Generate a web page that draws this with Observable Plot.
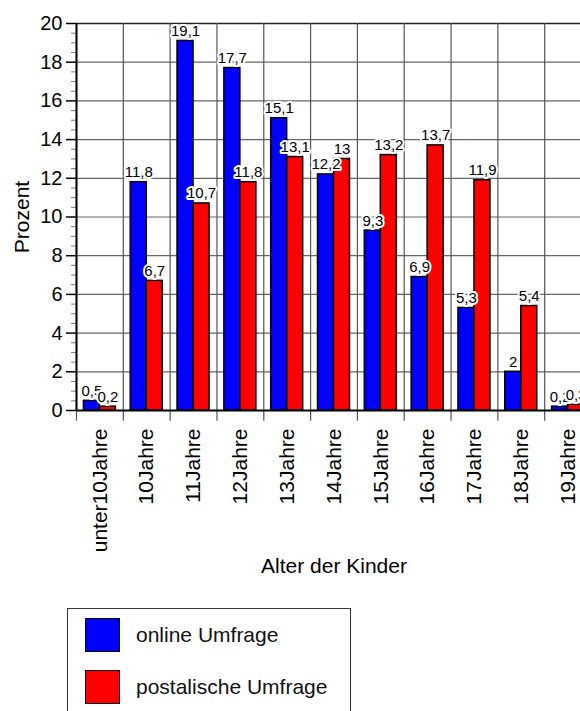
<!DOCTYPE html>
<html>
<head>
<meta charset="utf-8">
<script src="https://cdn.jsdelivr.net/npm/d3@7"></script>
<script src="https://cdn.jsdelivr.net/npm/@observablehq/plot@0.6"></script>
<style>
  html, body { margin: 0; padding: 0; background: #fff; overflow: hidden; }
  body { font-family: "Liberation Sans", Arial, Helvetica, sans-serif; }
  #wrap { position: relative; width: 580px; height: 711px; overflow: hidden; }
  #chart svg { max-width: none !important; }
  #legend {
    position: absolute; left: 67px; top: 608px; width: 284px; height: 130px;
    border: 1.5px solid #333; background: #fff; box-sizing: border-box;
  }
  .item { position: absolute; left: 17px; display: flex; align-items: center; }
  .sw { width: 35px; height: 34px; border: 1.5px solid #000; box-sizing: border-box; }
  .lab { margin-left: 16px; font-size: 21px; color: #111; }
</style>
</head>
<body>
<div id="wrap">
  <div id="chart"></div>
  <div id="legend"></div>
</div>
<script>
// Age groups of the children and the share (%) per survey type
const ageGroups = ["unter10Jahre", "10Jahre", "11Jahre", "12Jahre", "13Jahre", "14Jahre",
                   "15Jahre", "16Jahre", "17Jahre", "18Jahre", "19Jahre"];
const onlineValues = [0.5, 11.8, 19.1, 17.7, 15.1, 12.2, 9.3, 6.9, 5.3, 2, 0.2];
const postalValues = [0.2, 6.7, 10.7, 11.8, 13.1, 13, 13.2, 13.7, 11.9, 5.4, 0.3];
const seriesNames = ["online Umfrage", "postalische Umfrage"];
const seriesColors = ["#0000ff", "#ff0000"];
const yTicks = [0, 2, 4, 6, 8, 10, 12, 14, 16, 18, 20];

const online = ageGroups.map((age, i) => ({age, value: onlineValues[i]}));
const postal = ageGroups.map((age, i) => ({age, value: postalValues[i]}));

const width = 620, marginLeft = 76, marginRight = 29;
const bw = (width - marginLeft - marginRight) / ageGroups.length; // band width
const barW = 16;
const fmt = (v) => String(v).replace(".", ",");
const minorTicks = d3.range(0, 20.01, 0.5).filter((v) => v % 2 !== 0);

const labelStyle = {lineAnchor: "bottom", dy: -5, fontSize: 15, fill: "#000",
  stroke: "#fff", strokeWidth: 4, paintOrder: "stroke"};

const chart = Plot.plot({
  width,
  height: 590,
  marginLeft,
  marginRight,
  marginTop: 23,
  marginBottom: 180,
  style: {fontFamily: "'Liberation Sans', Arial, Helvetica, sans-serif", color: "#000",
    background: "#fff", maxWidth: "none"},
  x: {domain: ageGroups, padding: 0, round: false, axis: null},
  y: {domain: [0, 20], axis: null},
  marks: [
    // horizontal grid
    Plot.ruleY(yTicks.filter((v) => v > 0 && v < 20), {stroke: "#666", strokeWidth: 1.2}),
    Plot.ruleY([20], {stroke: "#222", strokeWidth: 1.5}),
    // vertical grid at the category boundaries, extending below the baseline as ticks
    Plot.ruleX(ageGroups, {x: (d) => d, dx: -bw / 2, y1: -0.55, y2: 20, stroke: "#555", strokeWidth: 1.2}),
    // bars
    Plot.barY(online, {x: "age", y: "value", fill: seriesColors[0], stroke: "#000", strokeWidth: 1.5,
      insetLeft: bw / 2 - barW, insetRight: bw / 2}),
    Plot.barY(postal, {x: "age", y: "value", fill: seriesColors[1], stroke: "#000", strokeWidth: 1.5,
      insetLeft: bw / 2, insetRight: bw / 2 - barW}),
    // axes
    Plot.ruleY([0], {stroke: "#000", strokeWidth: 2}),
    Plot.axisY(minorTicks, {tickSize: 5, tickFormat: () => "", stroke: "#777", strokeWidth: 1, label: null}),
    Plot.axisY(yTicks, {tickSize: 10, tickPadding: 4, fontSize: 20, stroke: "#000", strokeWidth: 1.5, label: null}),
    Plot.ruleX([ageGroups[0]], {dx: -bw / 2, y1: 0, y2: 20, stroke: "#000", strokeWidth: 2}),
    Plot.axisX({tickSize: 0, tickPadding: 18, tickRotate: -90, fontSize: 21, label: null}),
    // value labels
    Plot.text(online, {x: "age", y: "value", text: (d) => fmt(d.value), dx: -8, ...labelStyle}),
    Plot.text(postal, {x: "age", y: "value", text: (d) => fmt(d.value), dx: 8, ...labelStyle}),
    // axis titles
    Plot.text(["Prozent"], {frameAnchor: "left", rotate: -90, dx: -54, textAnchor: "middle",
      lineAnchor: "middle", fontSize: 21}),
    Plot.text(["Alter der Kinder"], {frameAnchor: "bottom", dy: 156, textAnchor: "middle",
      lineAnchor: "middle", fontSize: 21})
  ]
});
document.getElementById("chart").appendChild(chart);

// legend below the chart
const legend = document.getElementById("legend");
seriesNames.forEach((name, i) => {
  const item = document.createElement("div");
  item.className = "item";
  item.style.top = (9 + i * 52) + "px";
  item.innerHTML = `<div class="sw" style="background:${seriesColors[i]}"></div><span class="lab">${name}</span>`;
  legend.appendChild(item);
});
</script>
</body>
</html>
